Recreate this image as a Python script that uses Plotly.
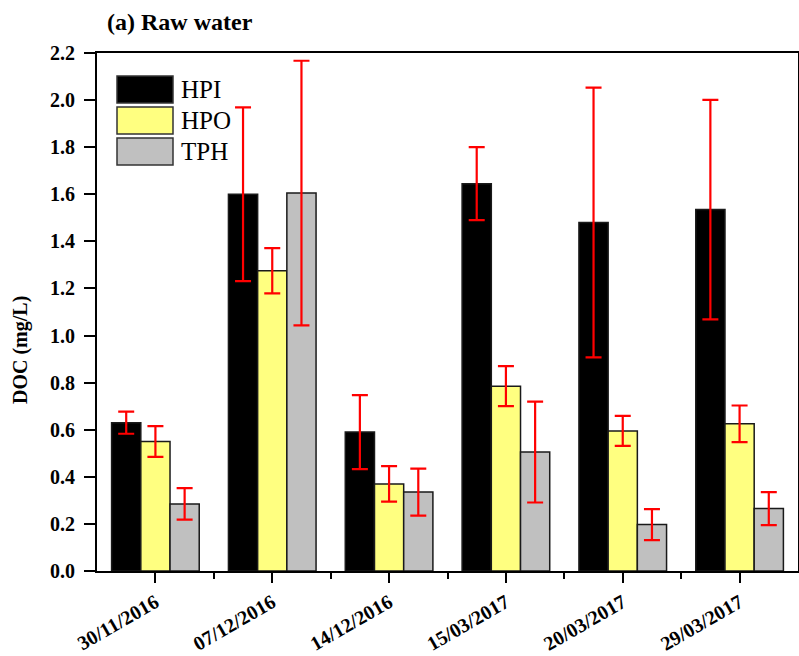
import plotly.graph_objects as go

# Sampling dates and DOC fractions (mg/L)
dates = ["30/11/2016", "07/12/2016", "14/12/2016", "15/03/2017", "20/03/2017", "29/03/2017"]
hpi = [0.63, 1.60, 0.59, 1.645, 1.48, 1.535]
hpi_err = [0.047, 0.369, 0.157, 0.155, 0.573, 0.466]
hpo = [0.55, 1.275, 0.37, 0.785, 0.595, 0.625]
hpo_err = [0.065, 0.096, 0.075, 0.085, 0.064, 0.078]
tph = [0.285, 1.605, 0.335, 0.505, 0.197, 0.265]
tph_err = [0.067, 0.562, 0.10, 0.214, 0.066, 0.07]

series_names = ["HPI", "HPO", "TPH"]
series_colors = ["#000000", "#FFFF80", "#C0C0C0"]

SERIF = "Liberation Serif, Times New Roman, serif"

W, H = 799, 656
ML, MR, MT, MB = 97, 1, 53, 85
PW, PH = W - ML - MR, H - MT - MB


def px_x(px):
    return (px - ML) / PW


def px_y(py):
    return (H - MB - py) / PH


xpos = list(range(len(dates)))

fig = go.Figure()
for name, vals, errs, col in zip(series_names, [hpi, hpo, tph],
                                 [hpi_err, hpo_err, tph_err], series_colors):
    fig.add_trace(go.Bar(
        x=xpos, y=vals, name=name, showlegend=False,
        marker=dict(color=col, line=dict(color="#1a1a1a", width=1.5)),
        error_y=dict(type="data", array=errs, visible=True,
                     color="#FF0000", thickness=2.2, width=8),
    ))

# Hand-built legend with large swatches
leg_x0, leg_x1 = 117, 173
leg_rows = [(76, 103), (107, 134), (138, 165)]
for (y0, y1), name, col in zip(leg_rows, series_names, series_colors):
    fig.add_shape(type="rect", xref="paper", yref="paper",
                  x0=px_x(leg_x0), x1=px_x(leg_x1), y0=px_y(y1), y1=px_y(y0),
                  fillcolor=col, line=dict(color="#333333", width=1.5))
    fig.add_annotation(xref="paper", yref="paper", x=px_x(179), y=px_y((y0 + y1) / 2),
                       text=name, showarrow=False, xanchor="left", yanchor="middle",
                       font=dict(family=SERIF, size=25, color="black"))

# Panel title
fig.add_annotation(xref="paper", yref="paper", x=px_x(105), y=px_y(22),
                   text="<b>(a) Raw water</b>", showarrow=False,
                   xanchor="left", yanchor="middle",
                   font=dict(family=SERIF, size=24, color="black"))

# Y-axis title
fig.add_annotation(xref="paper", yref="paper", x=px_x(20), y=px_y(350),
                   text="<b>DOC (mg/L)</b>", showarrow=False, textangle=-90,
                   xanchor="center", yanchor="middle",
                   font=dict(family=SERIF, size=20, color="black"))

fig.update_layout(
    width=W, height=H,
    margin=dict(l=ML, r=MR, t=MT, b=MB, pad=0),
    paper_bgcolor="white", plot_bgcolor="white",
    barmode="group", bargap=0.25, bargroupgap=0,
    font=dict(family=SERIF, color="black"),
)

fig.update_xaxes(
    range=[-0.5, 5.5], tickmode="array", tickvals=xpos, ticktext=dates,
    tickangle=-30, ticks="outside", ticklen=10, tickwidth=2, tickcolor="black",
    tickfont=dict(family=SERIF, size=20, color="black", weight="bold"),
    showline=True, linecolor="black", linewidth=2, mirror=True,
    showgrid=False, zeroline=False, automargin=False,
    minor=dict(tickmode="array", tickvals=[i + 0.5 for i in xpos[:-1]],
               ticks="outside", ticklen=6, tickwidth=2, tickcolor="black"),
)

fig.update_yaxes(
    range=[0, 2.2], tick0=0, dtick=0.2, tickformat=".1f",
    ticks="outside", ticklen=11, tickwidth=2, tickcolor="black",
    tickfont=dict(family=SERIF, size=20, color="black", weight="bold"),
    ticklabelstandoff=5,
    showline=True, linecolor="black", linewidth=2, mirror=True,
    showgrid=False, zeroline=False, automargin=False,
)

fig.write_html("out.html")
